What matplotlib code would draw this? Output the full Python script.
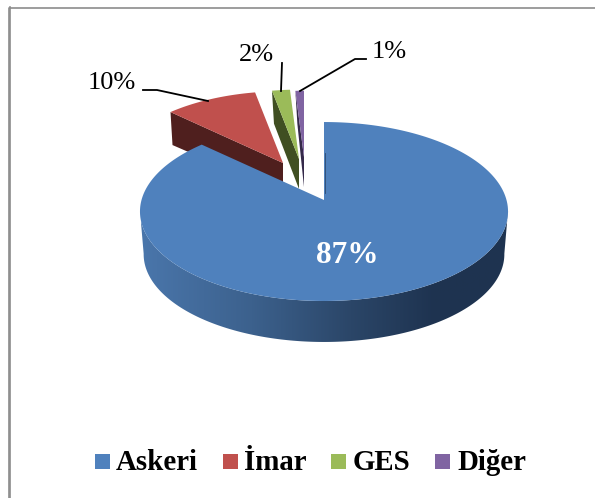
import matplotlib
matplotlib.use("Agg")
import matplotlib.pyplot as plt
import numpy as np
from matplotlib.colors import LinearSegmentedColormap
from matplotlib.patches import Polygon, Rectangle

# Pie data
categories = ["Askeri", "İmar", "GES", "Diğer"]
values = [87, 10, 2, 1]
value_labels = ["87%", "10%", "2%", "1%"]

# Colours of the top faces and the cut faces
top_colors = ["#4f81bd", "#c0504d", "#9bbb59", "#8064a2"]
side_colors = ["#1f3450", "#4f1f1e", "#404f22", "#352a4a"]

# Where each slice's tip ends up after exploding, and how much it shrinks
tips = [(324, 200), (283, 163), (299, 159), (304, 157)]
shrink = [1.0, 0.92, 0.89, 0.85]

# Perspective of the tilted disc
RX, RY, PERSP = 182.5, 88.0, 0.1286
DEPTH = 33

plt.rcParams["font.family"] = ["Liberation Serif", "DejaVu Serif"]

fig = plt.figure(figsize=(5.95, 4.98), dpi=100)
ax = fig.add_axes([0, 0, 1, 1])


def rim(tip, scale, angles):
    # angles in degrees, clockwise from the top of the pie
    t = np.radians(angles)
    u, v = np.sin(t), np.cos(t)
    x = tip[0] + scale * RX * u / (1 + PERSP * v)
    y = tip[1] - scale * RY * v / (1 + PERSP * v)
    return np.column_stack([x, y])


# Slice angles from the values
edges = np.concatenate([[0], np.cumsum(values)]) * 360 / sum(values)

# Small slices first, the big one goes on top
for i in [1, 2, 3]:
    start, end = edges[i], edges[i + 1]
    tip = tips[i]
    outer = rim(tip, shrink[i], np.array([start]))[0]
    wall = [outer, tip, (tip[0], tip[1] + DEPTH - 3), (outer[0] + 2, outer[1] + DEPTH)]
    ax.add_patch(Polygon(wall, closed=True, fc=side_colors[i], ec="none"))
    arc = rim(tip, shrink[i], np.linspace(start, end, 40))
    ax.add_patch(Polygon(np.vstack([[tip], arc]), closed=True, fc=top_colors[i], ec="none"))

# Rim of the big slice with a left to right gradient
blue_tip = tips[0]
top_arc = rim(blue_tip, 1.0, np.linspace(97, 263, 200))
low_arc = rim((blue_tip[0], blue_tip[1] + 43), 0.98, np.linspace(263, 97, 200))
wall_patch = Polygon(np.vstack([top_arc, low_arc]), closed=True, fc="none", ec="none")
ax.add_patch(wall_patch)
grad_cmap = LinearSegmentedColormap.from_list(
    "rim",
    [(0.0, "#4a76ab"), (0.3, "#3c618d"), (0.57, "#2b4668"), (0.8, "#1e3350"), (1.0, "#1f3450")],
)
img = ax.imshow(np.linspace(0, 1, 256)[None, :], cmap=grad_cmap, extent=(141, 509, 345, 150),
                aspect="auto", zorder=1)
img.set_clip_path(wall_patch)

arc = rim(blue_tip, 1.0, np.linspace(edges[0], edges[1], 300))
ax.add_patch(Polygon(np.vstack([[blue_tip], arc]), closed=True, fc=top_colors[0], ec="none", zorder=2))
ax.plot([324.6, 324.6], [153, 193], color=side_colors[0], lw=0.6, alpha=0.7, zorder=3)

# Frame, only top and left are there
ax.plot([595, 8.5, 8.5], [7.5, 7.5, 498], color="#8c8c8c", lw=1.2, zorder=3)
ax.plot([9.5, 9.5], [7, 498], color="#8c8c8c", lw=1.2, zorder=3)

# Value labels and leader lines
ax.text(347, 255, value_labels[0], color="white", fontsize=22.5, fontweight="bold",
        ha="center", va="center", zorder=4)
ax.text(111.5, 83, value_labels[1], color="black", fontsize=19, ha="center", va="center", zorder=4)
ax.text(256.5, 55, value_labels[2], color="black", fontsize=19, ha="center", va="center", zorder=4)
ax.text(389, 52, value_labels[3], color="black", fontsize=19, ha="center", va="center", zorder=4)
ax.plot([143, 157, 208], [90, 90, 101], color="black", lw=1.3, zorder=4)
ax.plot([282, 281], [63, 91], color="black", lw=1.3, zorder=4)
ax.plot([366, 355, 300], [59, 59, 91], color="black", lw=1.3, zorder=4)

# Legend
box_x = [95, 223, 331, 435]
text_x = [116, 244, 353, 457]
for name, color, bx, tx in zip(categories, top_colors, box_x, text_x):
    ax.add_patch(Rectangle((bx, 454), 15, 15, fc=color, ec="none", zorder=4))
    ax.text(tx, 470, name, color="black", fontsize=20.8, fontweight="bold",
            ha="left", va="baseline", zorder=4)

ax.set_xlim(0, 595)
ax.set_ylim(498, 0)
ax.axis("off")

fig.savefig("out.png", dpi=100)
